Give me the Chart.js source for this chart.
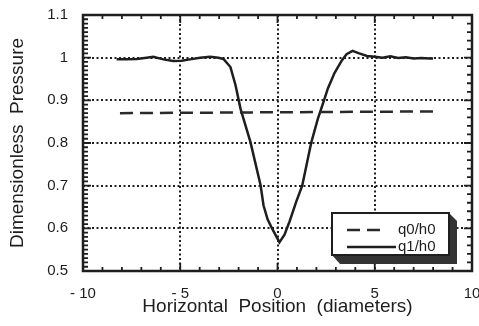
<!DOCTYPE html>
<html>
<head>
<meta charset="utf-8">
<script src="https://cdn.jsdelivr.net/npm/chart.js@4"></script>
<style>
  html, body { margin: 0; padding: 0; background: #fff; }
</style>
</head>
<body>
<canvas id="chart" width="479" height="326"></canvas>
<script>
// values
const Q1_X = [-8.27, -7.76, -7.24, -6.73, -6.39, -5.87, -5.36, -4.93, -4.5, -3.98, -3.47, -3.04,
  -2.78, -2.42, -2.16, -1.9, -1.39, -0.87, -0.72, -0.51, -0.26, 0.1, 0.36, 0.62, 0.96, 1.27,
  1.73, 2.07, 2.42, 2.59, 2.93, 3.3, 3.55, 3.86, 4.2, 4.6, 5.0, 5.4, 5.8, 6.2, 6.6, 7.0, 7.4, 7.8, 8.0];
const Q1_Y = [0.996, 0.996, 0.997, 1.0, 1.002, 0.996, 0.992, 0.993, 0.996, 1.0, 1.002, 1.0,
  0.997, 0.978, 0.936, 0.88, 0.802, 0.701, 0.654, 0.621, 0.598, 0.567, 0.585, 0.616, 0.662, 0.7,
  0.8, 0.856, 0.904, 0.928, 0.964, 0.993, 1.008, 1.016, 1.01, 1.004, 1.002, 1.0, 1.003, 0.999,
  1.001, 0.998, 0.999, 0.998, 0.998];
const Q0_X = [-8.1, 8.0];
const Q0_Y = [0.87, 0.874];
const SERIES_LABELS = ["q0/h0", "q1/h0"];

const X_TICKS = [-10, -5, 0, 5, 10];
const X_TICK_LABELS = ["- 10", "- 5", "0", "5", "10"];
const Y_TICKS = [0.5, 0.6, 0.7, 0.8, 0.9, 1.0, 1.1];
const Y_TICK_LABELS = ["0.5", "0.6", "0.7", "0.8", "0.9", "1", "1.1"];

const INK = "#1e1e1e";
const FONT = "'Liberation Sans', Arial, sans-serif";
const CLEAR = "rgba(0,0,0,0)";

function pts(xs, ys) {
  return xs.map((x, i) => ({ x, y: ys[i] }));
}

// heavy frame with inward minor ticks, old plotting-program style
const frame = {
  id: "frame",
  beforeDatasetsDraw(chart) {
    const { ctx, chartArea: a, scales: { x, y } } = chart;
    ctx.save();
    ctx.strokeStyle = INK;
    ctx.lineWidth = 1.8;
    ctx.beginPath();
    for (let v = -10; v <= 10; v++) {
      const px = x.getPixelForValue(v);
      const len = v % 5 === 0 ? 8 : 4;
      ctx.moveTo(px, a.bottom); ctx.lineTo(px, a.bottom - len);
      ctx.moveTo(px, a.top); ctx.lineTo(px, a.top + len);
    }
    for (let i = 50; i <= 110; i++) {
      const py = y.getPixelForValue(i / 100);
      const len = i % 10 === 0 ? 8 : 5;
      ctx.moveTo(a.left, py); ctx.lineTo(a.left + len, py);
      if (i % 2 === 0) { ctx.moveTo(a.right, py); ctx.lineTo(a.right - len, py); }
    }
    ctx.stroke();
    ctx.lineWidth = 2.5;
    ctx.strokeRect(a.left, a.top, a.right - a.left, a.bottom - a.top);
    ctx.restore();
  }
};

// boxed legend with the 3D drop shadow
const boxLegend = {
  id: "boxLegend",
  afterDatasetsDraw(chart) {
    const { ctx, chartArea: a } = chart;
    const r = a.right - 23, b = a.bottom - 16, l = r - 117, t = b - 42, d = 8;
    ctx.save();
    ctx.fillStyle = "#333";
    ctx.beginPath();
    ctx.moveTo(r, t); ctx.lineTo(r + d, t + d); ctx.lineTo(r + d, b + d + 1);
    ctx.lineTo(l + d, b + d + 1); ctx.lineTo(l, b); ctx.lineTo(r, b);
    ctx.closePath();
    ctx.fill();
    ctx.fillStyle = "#fff";
    ctx.fillRect(l, t, r - l, b - t);
    ctx.lineWidth = 2;
    ctx.strokeStyle = INK;
    ctx.strokeRect(l, t, r - l, b - t);

    ctx.font = "15px " + FONT;
    ctx.textBaseline = "middle";
    chart.data.datasets.forEach((ds, i) => {
      const yy = t + 17 + i * 17;
      ctx.strokeStyle = ds.borderColor;
      ctx.lineWidth = 2.5;
      ctx.setLineDash(ds.borderDash || []);
      ctx.beginPath();
      ctx.moveTo(l + 15, yy);
      ctx.lineTo(l + (ds.borderDash ? 53 : 64), yy);
      ctx.stroke();
      ctx.setLineDash([]);
      ctx.fillStyle = INK;
      ctx.fillText(ds.label, l + 66, yy);
    });
    ctx.restore();
  }
};

new Chart(document.getElementById("chart"), {
  type: "line",
  data: {
    datasets: [
      {
        label: SERIES_LABELS[0],
        data: pts(Q0_X, Q0_Y),
        borderColor: "#2a2a2a",
        borderWidth: 2.5,
        borderDash: [13, 7],
        pointRadius: 0,
      },
      {
        label: SERIES_LABELS[1],
        data: pts(Q1_X, Q1_Y),
        borderColor: INK,
        borderWidth: 2.5,
        pointRadius: 0,
      },
    ],
  },
  options: {
    responsive: false,
    animation: false,
    devicePixelRatio: 1,
    layout: { padding: { left: 0, right: 7, top: 15, bottom: 0 } },
    plugins: {
      legend: { display: false },
      tooltip: { enabled: false },
    },
    scales: {
      x: {
        type: "linear",
        min: -10,
        max: 10,
        afterBuildTicks: s => { s.ticks = X_TICKS.map(v => ({ value: v })); },
        afterFit: s => { s.height = 55; s.paddingLeft = 0; s.paddingRight = 0; },
        ticks: {
          autoSkip: false,
          maxRotation: 0,
          padding: 14,
          color: INK,
          font: { family: FONT, size: 15 },
          callback: (v, i) => X_TICK_LABELS[i],
        },
        grid: {
          drawTicks: false,
          lineWidth: 2,
          color: c => (c.index === 0 || c.index === X_TICKS.length - 1) ? CLEAR : INK,
        },
        border: { display: false, dash: [2, 2.5] },
        title: {
          display: true,
          text: "Horizontal  Position  (diameters)",
          color: INK,
          font: { family: FONT, size: 19 },
          padding: { top: 0, bottom: 7.6 },
        },
      },
      y: {
        min: 0.5,
        max: 1.1,
        afterBuildTicks: s => { s.ticks = Y_TICKS.map(v => ({ value: v })); },
        afterFit: s => { s.width = 83; s.paddingTop = 0; s.paddingBottom = 0; },
        ticks: {
          padding: 15,
          color: INK,
          font: { family: FONT, size: 15 },
          callback: (v, i) => Y_TICK_LABELS[i],
        },
        grid: {
          drawTicks: false,
          lineWidth: 2,
          color: c => (c.index === 0 || c.index === Y_TICKS.length - 1) ? CLEAR : INK,
        },
        border: { display: false, dash: [2, 2.5] },
        title: {
          display: true,
          text: "Dimensionless  Pressure",
          color: INK,
          font: { family: FONT, size: 19 },
          padding: { top: 6.6, bottom: 0 },
        },
      },
    },
  },
  plugins: [frame, boxLegend],
});
</script>
</body>
</html>
